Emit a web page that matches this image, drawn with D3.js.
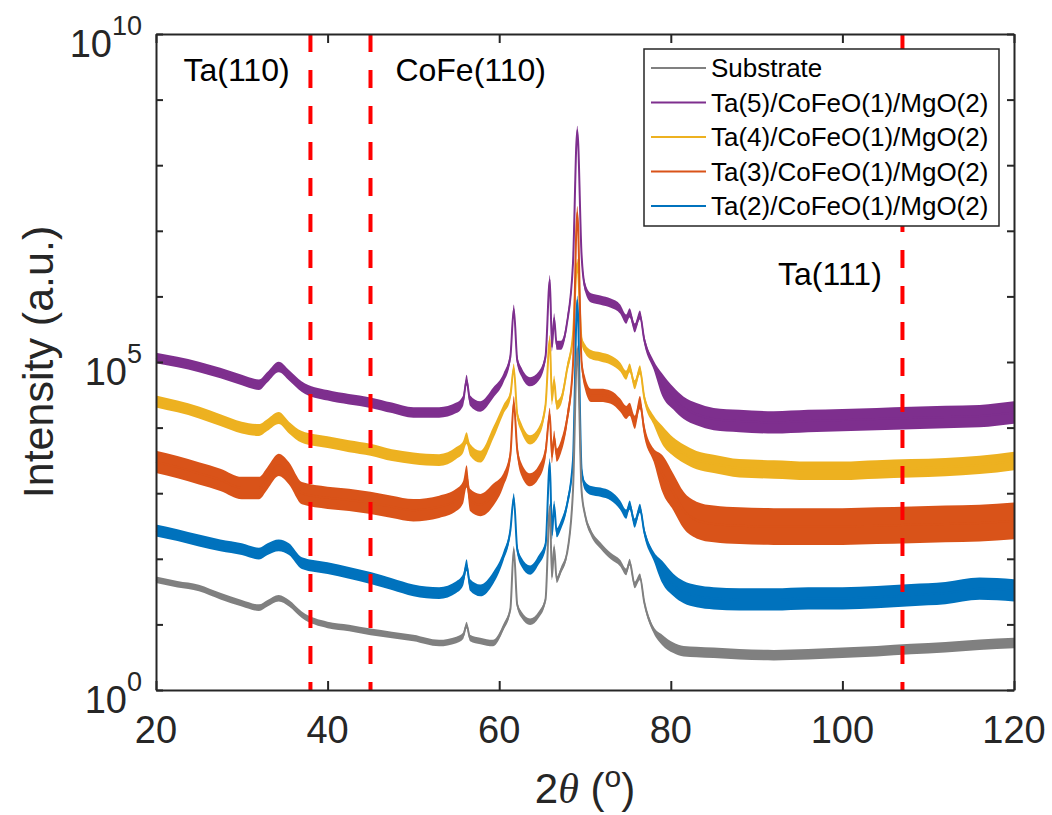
<!DOCTYPE html>
<html>
<head>
<meta charset="utf-8">
<script src="https://cdn.jsdelivr.net/npm/d3@7"></script>
<style>
  body { margin: 0; background: #fff; }
  text { font-family: "Liberation Sans", Arial, Helvetica, sans-serif; }
</style>
</head>
<body>
<svg id="chart" width="1052" height="815"></svg>
<script>
// 2theta grid (deg), shared by all scans
var twoTheta = [20, 22.5, 25, 27.5, 30, 32, 33, 34.3, 35.5, 37,
  40, 42.5, 45, 47.5, 50, 53, 55, 55.8, 56.2, 56.6,
  57.8, 59.3, 60.5, 61.3, 61.7, 62.1, 62.6, 63.6, 64.6, 65.4,
  65.9, 66.15, 66.4, 66.7, 67.2, 67.9, 68.6, 69.1, 69.6, 70.0,
  70.7, 71.8, 73.0, 74.1, 74.8, 75.2, 75.8, 76.4, 76.9, 78.0,
  79.0, 80.3, 81.5, 83, 85, 88, 92, 96, 100, 104,
  108, 112, 116, 120];

// intensities (a.u.)
var substrate = [48, 41, 36, 27, 21, 18, 21, 25, 21, 14,
  9.8, 8.8, 7.7, 6.9, 6.2, 5.2, 5.8, 6.7, 9.8, 6.2,
  5.6, 5.2, 9.1, 17, 140, 20, 14, 11, 14, 24,
  620, 53, 150, 48, 67, 120, 1100, 1.6e5, 1100, 470,
  250, 160, 110, 86, 63, 89, 40, 53, 22, 8.2,
  5.8, 4.4, 3.9, 3.8, 3.7, 3.5, 3.4, 3.5, 3.7, 3.9,
  4.2, 4.5, 4.9, 5.2];
var ta5 = [1.15e5, 1.0e5, 8.4e4, 6.8e4, 5.3e4, 4.5e4, 5.9e4, 8.4e4, 6.3e4, 4.2e4,
  3.1e4, 2.7e4, 2.4e4, 2.0e4, 1.7e4, 1.7e4, 2.0e4, 2.6e4, 5.3e4, 2.6e4,
  2.1e4, 3.4e4, 5.7e4, 1.2e5, 6.4e5, 1.07e5, 7.0e4, 5.0e4, 6.1e4, 1.2e5,
  1.8e6, 1.7e5, 4.7e5, 1.8e5, 1.8e5, 3.9e5, 3.2e6, 3.4e8, 4.3e6, 1.4e6,
  9.5e5, 8.8e5, 7.9e5, 6.4e5, 4.5e5, 5.6e5, 3.3e5, 5.2e5, 2.2e5, 9.0e4,
  4.5e4, 2.8e4, 2.0e4, 1.6e4, 1.35e4, 1.26e4, 1.2e4, 1.26e4, 1.3e4, 1.35e4,
  1.4e4, 1.45e4, 1.5e4, 1.7e4];
var ta4 = [2.5e4, 2.1e4, 1.7e4, 1.3e4, 1.0e4, 9.2e3, 1.1e4, 1.4e4, 1.0e4, 7.2e3,
  6.0e3, 5.2e3, 4.6e3, 3.8e3, 3.4e3, 3.2e3, 4.1e3, 5.1e3, 6.9e3, 4.6e3,
  3.6e3, 8.3e3, 1.9e4, 3.1e4, 8.1e4, 1.6e4, 9.9e3, 6.5e3, 8.6e3, 2.2e4,
  2.2e5, 2.6e4, 5.3e4, 2.2e4, 2.6e4, 7.6e4, 2.6e5, 3.2e6, 2.2e5, 1.6e5,
  1.3e5, 1.2e5, 1.07e5, 8.4e4, 6.3e4, 8.1e4, 4.5e4, 7.6e4, 2.9e4, 1.3e4,
  7.7e3, 5.1e3, 4.0e3, 3.2e3, 2.8e3, 2.4e3, 2.3e3, 2.2e3, 2.2e3, 2.3e3,
  2.4e3, 2.5e3, 2.7e3, 3.1e3];
var ta3 = [3.0e3, 2.5e3, 2.0e3, 1.6e3, 1.2e3, 1.2e3, 1.7e3, 2.7e3, 2.0e3, 1.0e3,
  850, 790, 710, 620, 550, 620, 790, 1040, 1800, 790,
  660, 940, 1.6e3, 3.8e3, 2.4e4, 4.6e3, 2.3e3, 1.6e3, 2.1e3, 4.2e3,
  1.6e4, 3.6e3, 7.2e3, 3.8e3, 5.1e3, 1.3e4, 9.0e4, 1.9e7, 1.0e5, 4.8e4,
  3.1e4, 3.1e4, 2.9e4, 2.2e4, 1.7e4, 1.9e4, 1.2e4, 2.4e4, 9.2e3, 3.8e3,
  2.0e3, 1040, 550, 390, 340, 320, 310, 310, 310, 320,
  330, 340, 350, 380];
var ta2 = [270, 230, 190, 160, 140, 120, 140, 160, 140, 86,
  72, 61, 51, 41, 33, 30, 37, 48, 80, 40,
  33, 51, 110, 270, 850, 140, 89, 67, 96, 160,
  2900, 230, 660, 250, 330, 660, 3200, 8.8e5, 2300, 1300,
  1100, 1040, 910, 660, 480, 660, 350, 590, 260, 110,
  63, 40, 31, 27, 25, 24, 24, 25, 25, 26,
  28, 30, 35, 33];

var seriesNames = ["Substrate", "Ta(5)/CoFeO(1)/MgO(2)", "Ta(4)/CoFeO(1)/MgO(2)",
  "Ta(3)/CoFeO(1)/MgO(2)", "Ta(2)/CoFeO(1)/MgO(2)"];
var seriesValues = [substrate, ta5, ta4, ta3, ta2];
var seriesColors = ["#808080", "#7E2F8E", "#EDB120", "#D95319", "#0072BD"];
// half width of the counting noise, in decades: [below 60, 60-78, above 78]
var noiseBand = [[0.05, 0.05, 0.08], [0.08, 0.07, 0.17], [0.09, 0.07, 0.14],
  [0.17, 0.1, 0.28], [0.09, 0.07, 0.17]];
var noiseEdges = [60, 78];

// reference peak positions
var refPeaks = [38, 45, 107];
var refLabels = ["Ta(110)", "CoFe(110)", "Ta(111)"];
var refLabelPos = [[23.2, 1.9e9], [47.9, 1.9e9], [92.5, 1.5e6]];

var xTicks = [20, 40, 60, 80, 100, 120];
var yTicks = d3.range(0, 11).map(function(e) { return Math.pow(10, e); });
var yLabelled = [0, 5, 10];

var svg = d3.select("#chart");
var margin = { top: 34, right: 38, bottom: 125, left: 156 };
var W = 1052, H = 815;

var x = d3.scaleLinear().domain([20, 120]).range([margin.left, W - margin.right]);
var y = d3.scaleLog().domain([1, 1e10]).range([H - margin.bottom, margin.top]);

svg.append("rect").attr("width", W).attr("height", H).attr("fill", "#fff");

var axisColor = "#262626";

// draw order: substrate on top
var order = [1, 2, 3, 4, 0];

function bandAt(k, t) {
	var b = noiseBand[k];
	if (t < noiseEdges[0]) return b[0];
	if (t > noiseEdges[1]) return b[2];
	return b[1];
}

var plot = svg.append("g");
order.forEach(function(k) {
	var pts = twoTheta.map(function(t, i) { return { t: t, v: seriesValues[k][i] }; });

	var area = d3.area()
		.x(function(d) { return x(d.t); })
		.y0(function(d) { return y(d.v / Math.pow(10, bandAt(k, d.t))); })
		.y1(function(d) { return y(d.v * Math.pow(10, bandAt(k, d.t))); })
		.curve(d3.curveMonotoneX);

	var line = d3.line()
		.x(function(d) { return x(d.t); })
		.y(function(d) { return y(d.v); })
		.curve(d3.curveMonotoneX);

	plot.append("path").datum(pts)
		.attr("d", area)
		.attr("fill", seriesColors[k]);
	plot.append("path").datum(pts)
		.attr("d", line)
		.attr("fill", "none")
		.attr("stroke", seriesColors[k])
		.attr("stroke-width", 2);
});

// dashed reference lines
svg.selectAll("line.ref").data(refPeaks).enter().append("line")
	.attr("class", "ref")
	.attr("x1", function(d) { return x(d); })
	.attr("x2", function(d) { return x(d); })
	.attr("y1", y(1e10))
	.attr("y2", y(1))
	.attr("stroke", "#ff0000")
	.attr("stroke-width", 4)
	.attr("stroke-dasharray", "18,18");

svg.selectAll("text.ref").data(refLabels).enter().append("text")
	.attr("class", "ref")
	.attr("x", function(d, i) { return x(refLabelPos[i][0]); })
	.attr("y", function(d, i) { return y(refLabelPos[i][1]); })
	.attr("font-size", 32)
	.attr("fill", "#000")
	.text(function(d) { return d; });

// axes (box with inward ticks)
var gx = svg.append("g").attr("transform", "translate(0," + y(1) + ")")
	.call(d3.axisBottom(x).tickValues(xTicks).tickSizeInner(-9).tickSizeOuter(0).tickFormat(""));
var gxt = svg.append("g").attr("transform", "translate(0," + y(1e10) + ")")
	.call(d3.axisTop(x).tickValues(xTicks).tickSizeInner(-9).tickSizeOuter(0).tickFormat(""));
var gy = svg.append("g").attr("transform", "translate(" + x(20) + ",0)")
	.call(d3.axisLeft(y).tickValues(yTicks).tickSizeInner(-7).tickSizeOuter(0).tickFormat(""));
var gyr = svg.append("g").attr("transform", "translate(" + x(120) + ",0)")
	.call(d3.axisRight(y).tickValues(yTicks).tickSizeInner(-7).tickSizeOuter(0).tickFormat(""));
[gx, gxt, gy, gyr].forEach(function(g) {
	g.select(".domain").attr("stroke", axisColor).attr("stroke-width", 2);
	g.selectAll(".tick line").attr("stroke", axisColor).attr("stroke-width", 2);
});

svg.selectAll("text.xtick").data(xTicks).enter().append("text")
	.attr("class", "xtick")
	.attr("x", function(d) { return x(d); })
	.attr("y", y(1) + 53)
	.attr("text-anchor", "middle")
	.attr("font-size", 38)
	.attr("fill", axisColor)
	.text(function(d) { return d; });

var ylab = svg.selectAll("text.ytick").data(yLabelled).enter().append("text")
	.attr("class", "ytick")
	.attr("x", x(20) - 14)
	.attr("y", function(d) { return y(Math.pow(10, d)) + 23; })
	.attr("text-anchor", "end")
	.attr("font-size", 38)
	.attr("fill", axisColor);
ylab.append("tspan").text("10");
ylab.append("tspan").attr("dy", -22).attr("font-size", 27).text(function(d) { return d; });

svg.append("text")
	.attr("transform", "translate(53," + ((y(1) + y(1e10)) / 2) + ") rotate(-90)")
	.attr("text-anchor", "middle")
	.attr("font-size", 43)
	.attr("fill", axisColor)
	.text("Intensity (a.u.)");

var xl = svg.append("text")
	.attr("x", (x(20) + x(120)) / 2)
	.attr("y", 803)
	.attr("text-anchor", "middle")
	.attr("font-size", 42)
	.attr("fill", axisColor);
xl.append("tspan").text("2");
xl.append("tspan").attr("font-family", "'Liberation Serif', 'Times New Roman', serif")
	.attr("font-style", "italic").text("\u03b8");
xl.append("tspan").text(" (");
xl.append("tspan").attr("dy", -16).attr("font-size", 30).text("o");
xl.append("tspan").attr("dy", 16).text(")");

// legend
var lg = svg.append("g").attr("transform", "translate(644,49)");
lg.append("rect")
	.attr("width", 355).attr("height", 177)
	.attr("fill", "#fff")
	.attr("stroke", axisColor)
	.attr("stroke-width", 1.5);
var items = lg.selectAll("g.item").data(seriesNames).enter().append("g")
	.attr("class", "item")
	.attr("transform", function(d, i) { return "translate(0," + (19 + i * 34.5) + ")"; });
items.append("line")
	.attr("x1", 7).attr("x2", 62)
	.attr("stroke", function(d, i) { return seriesColors[i]; })
	.attr("stroke-width", 2);
items.append("text")
	.attr("x", 67)
	.attr("y", 9)
	.attr("font-size", 26)
	.attr("fill", "#000")
	.text(function(d) { return d; });
</script>
</body>
</html>
